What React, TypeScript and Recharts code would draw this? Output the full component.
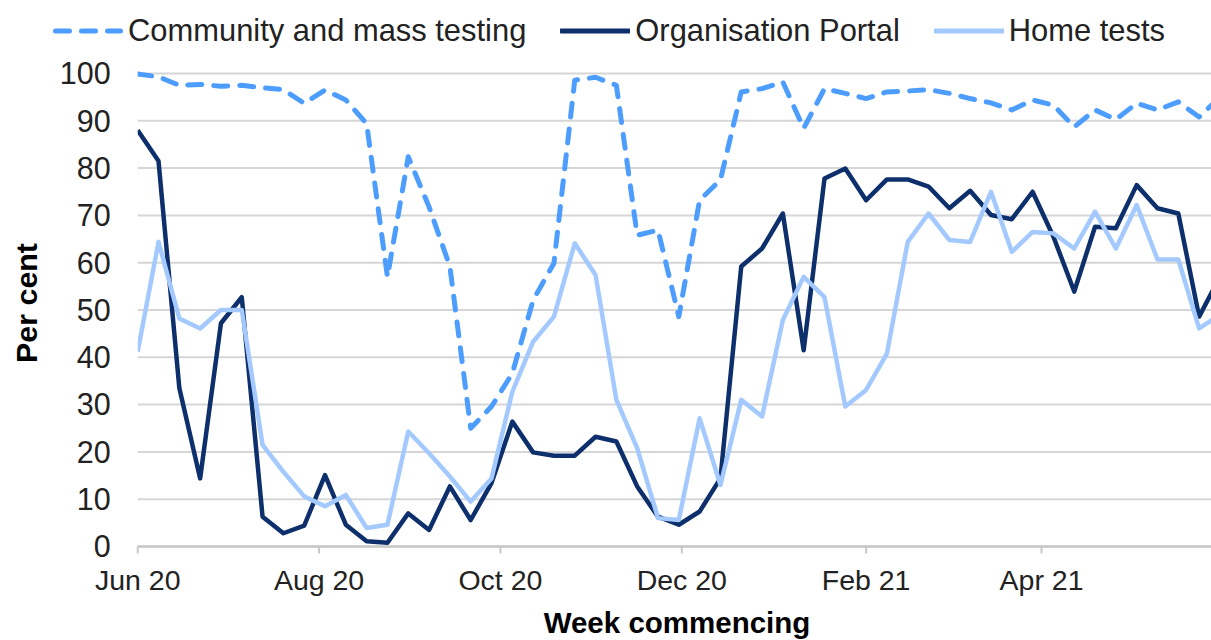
import React from 'react';
import { LineChart, Line, XAxis, YAxis, CartesianGrid, Label } from 'recharts';

// Week commencing dates (Mondays)
const weeks: string[] = [
  '2020-06-01', '2020-06-08', '2020-06-15', '2020-06-22', '2020-06-29',
  '2020-07-06', '2020-07-13', '2020-07-20', '2020-07-27',
  '2020-08-03', '2020-08-10', '2020-08-17', '2020-08-24', '2020-08-31',
  '2020-09-07', '2020-09-14', '2020-09-21', '2020-09-28',
  '2020-10-05', '2020-10-12', '2020-10-19', '2020-10-26',
  '2020-11-02', '2020-11-09', '2020-11-16', '2020-11-23', '2020-11-30',
  '2020-12-07', '2020-12-14', '2020-12-21', '2020-12-28',
  '2021-01-04', '2021-01-11', '2021-01-18', '2021-01-25',
  '2021-02-01', '2021-02-08', '2021-02-15', '2021-02-22',
  '2021-03-01', '2021-03-08', '2021-03-15', '2021-03-22', '2021-03-29',
  '2021-04-05', '2021-04-12', '2021-04-19', '2021-04-26',
  '2021-05-03', '2021-05-10', '2021-05-17', '2021-05-24', '2021-05-31',
];

const communityMass: number[] = [
  99.9, 99.3, 97.5, 97.7, 97.3, 97.5, 97.0, 96.6, 93.7, 96.5, 94.4, 89.4, 57.0,
  82.4, 71.8, 59.2, 25.0, 29.6, 36.6, 52.1, 59.9, 98.6, 99.2, 97.5, 65.8, 66.9,
  48.6, 73.2, 77.5, 96.1, 96.8, 98.2, 88.4, 96.8, 95.8, 94.7, 96.1, 96.3, 96.6,
  95.8, 94.7, 93.8, 92.3, 94.4, 93.3, 88.7, 92.3, 90.3, 93.7, 92.3, 94.0, 90.8, 95.0,
];

const organisationPortal: number[] = [
  88.0, 81.5, 33.5, 14.4, 47.2, 52.7, 6.3, 2.8, 4.4, 15.1, 4.6, 1.1, 0.8,
  7.0, 3.5, 12.7, 5.6, 13.4, 26.4, 19.9, 19.2, 19.2, 23.2, 22.2, 12.7, 6.3,
  4.6, 7.4, 14.4, 59.2, 63.0, 70.4, 41.5, 77.8, 79.9, 73.2, 77.6, 77.6, 76.1,
  71.5, 75.2, 70.1, 69.2, 75.0, 65.5, 53.9, 67.6, 67.3, 76.4, 71.5, 70.4, 48.6, 57.0,
];

const homeTests: number[] = [
  41.2, 64.4, 48.2, 46.1, 50.0, 50.0, 21.5, 15.8, 10.6, 8.5, 10.9, 3.9, 4.6,
  24.3, 19.7, 14.8, 9.5, 14.4, 32.7, 43.3, 48.6, 64.1, 57.4, 31.0, 20.8, 6.0,
  5.6, 27.1, 13.0, 31.0, 27.5, 47.9, 57.0, 52.7, 29.6, 33.1, 40.8, 64.4, 70.4,
  64.8, 64.4, 75.0, 62.3, 66.5, 66.2, 63.0, 70.8, 63.0, 72.2, 60.7, 60.7, 46.1, 49.0,
];

const tickDates: string[] = ['2020-06-01', '2020-08-01', '2020-10-01', '2020-12-01', '2021-02-01', '2021-04-01'];
const tickLabels: string[] = ['Jun 20', 'Aug 20', 'Oct 20', 'Dec 20', 'Feb 21', 'Apr 21'];
const yTicks: number[] = [0, 10, 20, 30, 40, 50, 60, 70, 80, 90, 100];
const xDomainEnd = '2021-05-28';

const seriesNames = ['Community and mass testing', 'Organisation Portal', 'Home tests'];
const seriesColors = ['#4D9DFF', '#0D2F6B', '#A3C9FF'];

const FONT = '"Liberation Sans", Arial, sans-serif';
const DAY = 86400000;
const origin = Date.UTC(2020, 5, 1);
const toDay = (s: string) => {
  const [y, m, d] = s.split('-').map(Number);
  return (Date.UTC(y, m - 1, d) - origin) / DAY;
};

const data = weeks.map((w, i) => ({
  day: toDay(w),
  community: communityMass[i],
  portal: organisationPortal[i],
  home: homeTests[i],
}));

const tickDays = tickDates.map(toDay);
const tickLabelOf = (v: number) => tickLabels[tickDays.indexOf(v)] ?? '';

const LegendIcon = ({ color, dashed }: { color: string; dashed?: boolean }) => (
  <svg width={70} height={12} style={{ display: 'block' }}>
    <line
      x1={dashed ? 2.5 : 1} y1={6} x2={dashed ? 67.5 : 69} y2={6}
      stroke={color} strokeWidth={5}
      strokeLinecap="round"
      strokeDasharray={dashed ? '14 12' : undefined}
    />
  </svg>
);

export default function App() {
  return (
    <div style={{ position: 'absolute', left: 0, top: 0, width: 1211, height: 640, background: '#fff', overflow: 'hidden' }}>
      <div
        style={{
          position: 'absolute', left: 53, top: 13, display: 'flex', alignItems: 'center',
          fontFamily: FONT, fontSize: 30.9, color: '#222', whiteSpace: 'nowrap', lineHeight: '36px',
        }}
      >
        {seriesNames.map((name, i) => (
          <div key={name} style={{ display: 'flex', alignItems: 'center', marginRight: 34 }}>
            <LegendIcon color={seriesColors[i]} dashed={i === 0} />
            <span style={{ marginLeft: 5 }}>{name}</span>
          </div>
        ))}
      </div>
      <LineChart
        width={1211}
        height={640}
        data={data}
        margin={{ top: 73.5, right: 0, bottom: 0, left: 0 }}
        style={{ position: 'absolute', left: 0, top: 0 }}
      >
        <CartesianGrid horizontal vertical={false} stroke="#d6d6d6" strokeWidth={2} />
        <XAxis
          type="number"
          dataKey="day"
          domain={[0, toDay(xDomainEnd)]}
          allowDataOverflow
          ticks={tickDays}
          interval={0}
          tickFormatter={tickLabelOf}
          height={93.5}
          tickSize={7}
          tickMargin={16.5}
          axisLine={{ stroke: '#c8c8c8', strokeWidth: 2.5 }}
          tickLine={{ stroke: '#c8c8c8', strokeWidth: 2 }}
          tick={{ fill: '#222', fontSize: 28.5, fontFamily: FONT }}
        >
          <Label
            content={() => (
              <text x={677} y={633} textAnchor="middle" fontFamily={FONT} fontWeight="bold" fontSize={29.5} fill="#000">
                Week commencing
              </text>
            )}
          />
        </XAxis>
        <YAxis
          type="number"
          domain={[0, 100]}
          ticks={yTicks}
          interval={0}
          width={137.7}
          axisLine={false}
          tickLine={false}
          tickSize={0}
          tickMargin={27}
          tick={{ fill: '#222', fontSize: 30.5, fontFamily: FONT }}
        >
          <Label
            content={() => (
              <text x={37} y={303} transform="rotate(-90, 37, 303)" textAnchor="middle" fontFamily={FONT} fontWeight="bold" fontSize={30.4} fill="#000">
                Per cent
              </text>
            )}
          />
        </YAxis>
        <Line
          type="linear" dataKey="community" name={seriesNames[0]} stroke={seriesColors[0]}
          strokeWidth={5} strokeDasharray="14 12" strokeLinecap="round" strokeLinejoin="round"
          dot={false} activeDot={false} isAnimationActive={false}
        />
        <Line
          type="linear" dataKey="portal" name={seriesNames[1]} stroke={seriesColors[1]}
          strokeWidth={4.5} strokeLinejoin="round"
          dot={false} activeDot={false} isAnimationActive={false}
        />
        <Line
          type="linear" dataKey="home" name={seriesNames[2]} stroke={seriesColors[2]}
          strokeWidth={4.5} strokeLinejoin="round"
          dot={false} activeDot={false} isAnimationActive={false}
        />
      </LineChart>
    </div>
  );
}
